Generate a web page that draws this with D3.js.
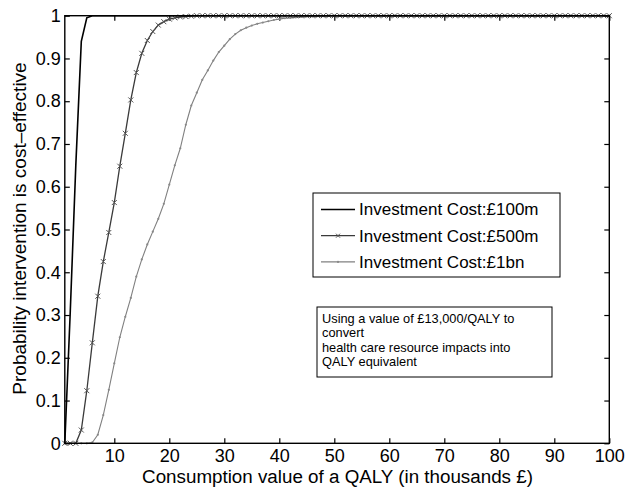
<!DOCTYPE html>
<html>
<head>
<meta charset="utf-8">
<script src="https://cdn.jsdelivr.net/npm/d3@7"></script>
<style>
  body { margin: 0; background: #fff; }
  text { font-family: "Liberation Sans", Arial, sans-serif; }
</style>
</head>
<body>
<div id="chart"></div>
<script>
const WIDTH = 626, HEIGHT = 489;
const MARGIN = { top: 15.7, right: 16.7, bottom: 45.7, left: 64.8 };
const PLOT_W = WIDTH - MARGIN.left - MARGIN.right, PLOT_H = HEIGHT - MARGIN.top - MARGIN.bottom;

// x values: consumption value of a QALY (thousands £)
const qalyValues = d3.range(1, 101);
const xTicks = [10, 20, 30, 40, 50, 60, 70, 80, 90, 100];
const yTicks = [0, 0.1, 0.2, 0.3, 0.4, 0.5, 0.6, 0.7, 0.8, 0.9, 1];
const seriesNames = ["Investment Cost:£100m", "Investment Cost:£500m", "Investment Cost:£1bn"];

const cost100m = [
  0, 0.31, 0.65, 0.94, 0.995, 1, 1, 1, 1, 1,
  1, 1, 1, 1, 1, 1, 1, 1, 1, 1,
  1, 1, 1, 1, 1, 1, 1, 1, 1, 1,
  1, 1, 1, 1, 1, 1, 1, 1, 1, 1,
  1, 1, 1, 1, 1, 1, 1, 1, 1, 1,
  1, 1, 1, 1, 1, 1, 1, 1, 1, 1,
  1, 1, 1, 1, 1, 1, 1, 1, 1, 1,
  1, 1, 1, 1, 1, 1, 1, 1, 1, 1,
  1, 1, 1, 1, 1, 1, 1, 1, 1, 1,
  1, 1, 1, 1, 1, 1, 1, 1, 1, 1
];
const cost500m = [
  0, 0, 0, 0.031, 0.123, 0.235, 0.344, 0.425, 0.493, 0.563,
  0.648, 0.725, 0.803, 0.867, 0.912, 0.942, 0.963, 0.978, 0.986, 0.992,
  0.995, 0.997, 0.998, 0.999, 1, 1, 1, 1, 1, 1,
  1, 1, 1, 1, 1, 1, 1, 1, 1, 1,
  1, 1, 1, 1, 1, 1, 1, 1, 1, 1,
  1, 1, 1, 1, 1, 1, 1, 1, 1, 1,
  1, 1, 1, 1, 1, 1, 1, 1, 1, 1,
  1, 1, 1, 1, 1, 1, 1, 1, 1, 1,
  1, 1, 1, 1, 1, 1, 1, 1, 1, 1,
  1, 1, 1, 1, 1, 1, 1, 1, 1, 1
];
const cost1bn = [
  0, 0, 0, 0, 0, 0.002, 0.02, 0.066, 0.125, 0.187,
  0.248, 0.296, 0.34, 0.39, 0.43, 0.465, 0.495, 0.525, 0.56, 0.605,
  0.65, 0.69, 0.745, 0.79, 0.82, 0.85, 0.872, 0.895, 0.915, 0.93,
  0.945, 0.957, 0.966, 0.972, 0.977, 0.981, 0.984, 0.987, 0.99, 0.992,
  0.994, 0.995, 0.996, 0.997, 0.998, 0.998, 0.999, 0.999, 1, 1,
  1, 1, 1, 1, 1, 1, 1, 1, 1, 1,
  1, 1, 1, 1, 1, 1, 1, 1, 1, 1,
  1, 1, 1, 1, 1, 1, 1, 1, 1, 1,
  1, 1, 1, 1, 1, 1, 1, 1, 1, 1,
  1, 1, 1, 1, 1, 1, 1, 1, 1, 1
];
const noteLines = [
  "Using a value of £13,000/QALY to",
  "convert",
  "health care resource impacts into",
  "QALY equivalent"
];

const svg = d3.select("#chart").append("svg")
    .attr("width", WIDTH)
    .attr("height", HEIGHT);
const g = svg.append("g").attr("transform", "translate(" + MARGIN.left + "," + MARGIN.top + ")");

const x = d3.scaleLinear().domain([1, 100]).range([0, PLOT_W]);
const y = d3.scaleLinear().domain([0, 1]).range([PLOT_H, 0]);

// axes, matlab style: ticks point inwards, box all round
const TICK = 5, FONT = 18;
g.append("g").attr("transform", "translate(0," + PLOT_H + ")")
    .call(d3.axisBottom(x).tickValues(xTicks).tickSize(-TICK).tickPadding(6).tickFormat(d3.format("d")));
g.append("g")
    .call(d3.axisLeft(y).tickValues(yTicks).tickSize(-TICK).tickPadding(4).tickFormat(d => d3.format("")(+d.toFixed(1))));
g.append("g").call(d3.axisTop(x).tickValues(xTicks).tickSize(-TICK).tickFormat(""));
g.append("g").attr("transform", "translate(" + PLOT_W + ",0)")
    .call(d3.axisRight(y).tickValues(yTicks).tickSize(-TICK).tickFormat(""));
g.selectAll(".domain").remove();
g.selectAll(".tick line").attr("stroke", "#000").attr("stroke-width", 1.2);
g.selectAll(".tick text").attr("fill", "#000").style("font-size", FONT + "px")
    .style("font-family", "'Liberation Sans', Arial, sans-serif");

const lineGen = d3.line()
    .x((d, i) => x(qalyValues[i]))
    .y(d => y(d));

const styles = [
  { data: cost1bn, color: "#808080", width: 1.1, marker: "dot" },
  { data: cost500m, color: "#3a3a3a", width: 1.3, marker: "x" },
  { data: cost100m, color: "#000000", width: 1.6, marker: null }
];

styles.forEach(s => {
  g.append("path")
      .datum(s.data)
      .attr("d", lineGen)
      .attr("fill", "none")
      .attr("stroke", s.color)
      .attr("stroke-width", s.width);
  if (s.marker === "x") {
    g.append("g").selectAll("path")
        .data(s.data)
        .join("path")
        .attr("transform", (d, i) => "translate(" + x(qalyValues[i]) + "," + y(d) + ")")
        .attr("d", "M-2.5,-2.5L2.5,2.5M-2.5,2.5L2.5,-2.5")
        .attr("stroke", "#555")
        .attr("stroke-width", 1);
  } else if (s.marker === "dot") {
    g.append("g").selectAll("circle")
        .data(s.data)
        .join("circle")
        .attr("cx", (d, i) => x(qalyValues[i]))
        .attr("cy", d => y(d))
        .attr("r", 1.1)
        .attr("fill", "#888");
  }
});

// frame
g.append("rect")
    .attr("width", PLOT_W)
    .attr("height", PLOT_H)
    .attr("fill", "none")
    .attr("stroke", "#000")
    .attr("stroke-width", 1.4);

// axis titles
svg.append("text")
    .attr("x", 337.5)
    .attr("y", 483)
    .attr("text-anchor", "middle")
    .style("font-size", "18.8px")
    .text("Consumption value of a QALY (in thousands £)");
svg.append("text")
    .attr("transform", "translate(26," + (MARGIN.top + PLOT_H / 2 - 1) + ") rotate(-90)")
    .attr("text-anchor", "middle")
    .style("font-size", "19px")
    .text("Probability intervention is cost\u2013effective");

// legend
const legend = svg.append("g").attr("transform", "translate(313,193)");
legend.append("rect")
    .attr("width", 247).attr("height", 84)
    .attr("fill", "#fff").attr("stroke", "#000").attr("stroke-width", 1);
const legendStyles = [styles[2], styles[1], styles[0]];
legendStyles.forEach((s, i) => {
  const ly = 16.5 + i * 26.2;
  legend.append("line")
      .attr("x1", 8).attr("x2", 42).attr("y1", ly).attr("y2", ly)
      .attr("stroke", s.color).attr("stroke-width", s.width);
  if (s.marker === "x") {
    legend.append("path")
        .attr("transform", "translate(25," + ly + ")")
        .attr("d", "M-2,-2L2,2M-2,2L2,-2")
        .attr("stroke", "#555").attr("stroke-width", 1);
  } else if (s.marker === "dot") {
    legend.append("circle").attr("cx", 25).attr("cy", ly).attr("r", 1.1).attr("fill", "#888");
  }
  legend.append("text")
      .attr("x", 46).attr("y", ly)
      .attr("dy", "0.35em")
      .style("font-size", "17px")
      .text(seriesNames[i]);
});

// note box
const note = svg.append("g").attr("transform", "translate(317,307)");
note.append("rect")
    .attr("width", 235).attr("height", 70)
    .attr("fill", "#fff").attr("stroke", "#000").attr("stroke-width", 1);
note.selectAll("text")
    .data(noteLines)
    .join("text")
    .attr("x", 5)
    .attr("y", (d, i) => 11.5 + i * 14.3)
    .attr("dy", "0.35em")
    .style("font-size", "12.8px")
    .text(d => d);
</script>
</body>
</html>
